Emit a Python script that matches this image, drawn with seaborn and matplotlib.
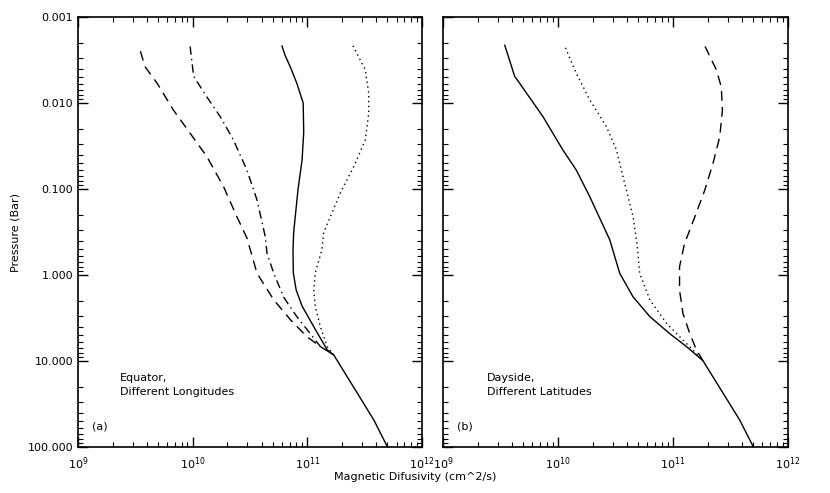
import matplotlib
matplotlib.use("Agg")
import matplotlib.pyplot as plt
import seaborn as sns
from matplotlib.ticker import LogLocator, FixedLocator, FixedFormatter, NullFormatter

# pressure (bar) and magnetic diffusivity (cm^2/s)

# (a) equator, different longitudes
p_a_solid = [0.00216, 0.0028, 0.0038, 0.0059, 0.01, 0.022, 0.046, 0.1, 0.32, 0.51, 0.95, 1.5, 2.3, 4.7, 7.4, 8.5, 48.5, 100]
d_a_solid = [6.0e10, 6.4e10, 7.1e10, 8.1e10, 9.2e10, 9.3e10, 9.0e10, 8.3e10, 7.6e10, 7.5e10, 7.55e10, 8.0e10, 9.0e10, 1.22e11, 1.49e11, 1.70e11, 3.8e11, 5.0e11]

p_a_dot = [0.00216, 0.0041, 0.0077, 0.0132, 0.027, 0.055, 0.111, 0.32, 0.51, 0.95, 1.5, 2.3, 4.0, 6.8, 8.5]
d_a_dot = [2.5e11, 3.2e11, 3.43e11, 3.43e11, 3.2e11, 2.54e11, 1.94e11, 1.39e11, 1.34e11, 1.17e11, 1.14e11, 1.17e11, 1.30e11, 1.49e11, 1.70e11]

p_a_dashdot = [0.0022, 0.0049, 0.0085, 0.0144, 0.027, 0.06, 0.134, 0.36, 0.56, 0.955, 1.8, 3.05, 4.8, 6.8, 8.5]
d_a_dashdot = [9.5e9, 1.02e10, 1.33e10, 1.74e10, 2.27e10, 2.97e10, 3.64e10, 4.3e10, 4.45e10, 5.1e10, 6.2e10, 8.1e10, 1.06e11, 1.30e11, 1.70e11]

p_a_dash = [0.0025, 0.0038, 0.0059, 0.0121, 0.0225, 0.042, 0.094, 0.21, 0.37, 0.955, 1.95, 3.3, 5.2, 6.8, 8.5]
d_a_dash = [3.5e9, 3.85e9, 4.9e9, 6.8e9, 9.5e9, 1.33e10, 1.86e10, 2.43e10, 2.97e10, 3.64e10, 5.1e10, 7.1e10, 9.9e10, 1.30e11, 1.70e11]

# (b) dayside, different latitudes
p_b_solid = [0.00212, 0.0049, 0.0059, 0.0144, 0.035, 0.06, 0.123, 0.39, 0.955, 1.8, 3.05, 4.8, 6.8, 9.9, 48.5, 100]
d_b_solid = [3.44e9, 4.2e9, 4.64e9, 7.4e9, 1.1e10, 1.44e10, 1.89e10, 2.82e10, 3.44e10, 4.5e10, 6.3e10, 9.35e10, 1.31e11, 1.82e11, 3.8e11, 5.0e11]

p_b_dot = [0.00228, 0.0045, 0.0092, 0.0189, 0.035, 0.086, 0.21, 0.47, 0.955, 1.95, 3.65, 5.7, 7.45, 9.9]
d_b_dot = [1.16e10, 1.44e10, 1.89e10, 2.64e10, 3.22e10, 3.8e10, 4.5e10, 4.9e10, 5.13e10, 6.3e10, 8.8e10, 1.22e11, 1.49e11, 1.82e11]

p_b_dash = [0.0022, 0.0041, 0.0065, 0.0121, 0.0247, 0.05, 0.103, 0.21, 0.43, 0.8, 1.5, 2.8, 4.8, 7.45, 9.9]
d_b_dash = [1.9e11, 2.38e11, 2.63e11, 2.69e11, 2.55e11, 2.23e11, 1.89e11, 1.55e11, 1.26e11, 1.14e11, 1.14e11, 1.22e11, 1.40e11, 1.60e11, 1.82e11]

x_ticks = [1e9, 1e10, 1e11, 1e12]
x_labels = ["$10^{9}$", "$10^{10}$", "$10^{11}$", "$10^{12}$"]
y_ticks = [0.001, 0.01, 0.1, 1, 10, 100]
y_labels = ["0.001", "0.010", "0.100", "1.000", "10.000", "100.000"]

sns.set_style("ticks")
plt.rcParams["font.family"] = ["DejaVu Sans"]
plt.rcParams["font.size"] = 8
plt.rcParams["text.color"] = "black"

fig = plt.figure(figsize=(8.3, 4.93), dpi=100)
W, H = 830, 493
ax1 = fig.add_axes([78 / W, 1 - 447 / H, 344 / W, 430 / H])
ax2 = fig.add_axes([443 / W, 1 - 447 / H, 345 / W, 430 / H])

dash = (0, (7, 4.5))
dashdot = (0, (6, 3, 1, 3))
dot = (0, (1, 2.5))

curves_a = [(d_a_solid, p_a_solid, "-"), (d_a_dot, p_a_dot, dot),
            (d_a_dashdot, p_a_dashdot, dashdot), (d_a_dash, p_a_dash, dash)]
curves_b = [(d_b_solid, p_b_solid, "-"), (d_b_dot, p_b_dot, dot),
            (d_b_dash, p_b_dash, dash)]

for ax, curves in [(ax1, curves_a), (ax2, curves_b)]:
    for d, p, ls in curves:
        sns.lineplot(x=d, y=p, ax=ax, color="black", linestyle=ls, linewidth=1.0,
                     sort=False, estimator=None)
    ax.set_xscale("log")
    ax.set_yscale("log")
    ax.set_xlim(1e9, 1e12)
    ax.set_ylim(100, 0.001)
    ax.xaxis.set_major_locator(FixedLocator(x_ticks))
    ax.xaxis.set_major_formatter(FixedFormatter(x_labels))
    ax.xaxis.set_minor_locator(LogLocator(base=10, subs=range(2, 10)))
    ax.xaxis.set_minor_formatter(NullFormatter())
    ax.yaxis.set_major_locator(FixedLocator(y_ticks))
    ax.yaxis.set_minor_locator(LogLocator(base=10, subs=range(2, 10)))
    ax.yaxis.set_minor_formatter(NullFormatter())
    ax.tick_params(which="both", direction="in", top=True, right=True, colors="black", labelsize=8)
    ax.tick_params(which="major", length=7, width=1)
    ax.tick_params(which="minor", length=3.5, width=0.8)
    ax.tick_params(axis="x", pad=6)
    for s in ax.spines.values():
        s.set_linewidth(1.2)
        s.set_color("black")
    ax.set_xlabel("")
    ax.set_ylabel("")

ax1.yaxis.set_major_formatter(FixedFormatter(y_labels))
ax2.yaxis.set_major_formatter(NullFormatter())

ax1.text(0.122, 0.172, "Equator,\nDifferent Longitudes", transform=ax1.transAxes,
         va="top", ha="left", fontsize=8, linespacing=1.5)
ax1.text(0.04, 0.035, "(a)", transform=ax1.transAxes, va="bottom", ha="left", fontsize=8)
ax2.text(0.128, 0.172, "Dayside,\nDifferent Latitudes", transform=ax2.transAxes,
         va="top", ha="left", fontsize=8, linespacing=1.5)
ax2.text(0.04, 0.035, "(b)", transform=ax2.transAxes, va="bottom", ha="left", fontsize=8)

fig.text(15 / W, 1 - 232 / H, "Pressure (Bar)", rotation=90, ha="center", va="center", fontsize=8)
fig.text(415 / W, 1 - 477 / H, "Magnetic Difusivity (cm^2/s)", ha="center", va="center", fontsize=8)

fig.savefig("out.png", dpi=100, facecolor="white")
